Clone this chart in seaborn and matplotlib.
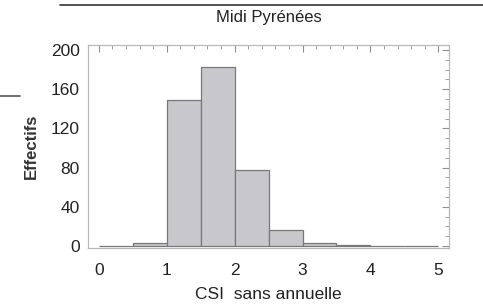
import numpy as np
import seaborn as sns
import matplotlib.pyplot as plt
from matplotlib.lines import Line2D
from matplotlib.ticker import MultipleLocator

# histogram bins (CSI sans annuelle) and counts
bin_edges = [0.0, 0.5, 1.0, 1.5, 2.0, 2.5, 3.0, 3.5, 4.0, 4.5, 5.0]
counts = [0, 3, 149, 183, 78, 16, 3, 1, 0, 0]
x_ticks = [0, 1, 2, 3, 4, 5]
y_ticks = [0, 40, 80, 120, 160, 200]

sns.set_style("white")
plt.rcParams['font.family'] = ['Liberation Sans', 'DejaVu Sans']

centers = [(bin_edges[i] + bin_edges[i + 1]) / 2 for i in range(len(counts))]

fig = plt.figure(figsize=(4.83, 3.05), dpi=100)
ax = fig.add_axes([0.182, 0.187, 0.748, 0.665])

sns.histplot(x=centers, weights=counts, bins=bin_edges, ax=ax,
             color='#c8c8cc', edgecolor='#787878', linewidth=0.9, alpha=1)

ax.set_xlim(-0.16, 5.16)
ax.set_ylim(-2, 205)
ax.set_xticks(x_ticks)
ax.set_yticks(y_ticks)
ax.xaxis.set_minor_locator(MultipleLocator(0.2))
ax.yaxis.set_minor_locator(MultipleLocator(10))
ax.tick_params(which='both', direction='in', top=True, right=True,
               color='#909090', labelsize=12.5, labelcolor='#222222')
ax.tick_params(axis='x', which='major', pad=11)
ax.tick_params(axis='y', which='major', pad=6)
ax.tick_params(which='major', length=5, width=0.8)
ax.tick_params(which='minor', length=3, width=0.6)
for s in ax.spines.values():
    s.set_color('#b8b8b8')
    s.set_linewidth(0.9)

ax.set_title('Midi Pyrénées', fontsize=12, color='#222222', pad=17)
ax.set_xlabel('CSI  sans annuelle', fontsize=12.5, color='#222222', labelpad=6)
ax.set_ylabel('Effectifs', fontsize=12, fontweight='bold', color='#333333')
ax.yaxis.set_label_coords(-0.135, 0.5)

# page rules from the scanned document
fig.add_artist(Line2D([60 / 483, 1.0], [1 - 5 / 305, 1 - 5 / 305], color='#333333', lw=1.2))
fig.add_artist(Line2D([0, 20 / 483], [1 - 96 / 305, 1 - 96 / 305], color='#555555', lw=1.2))

fig.savefig('out.png', dpi=100)
